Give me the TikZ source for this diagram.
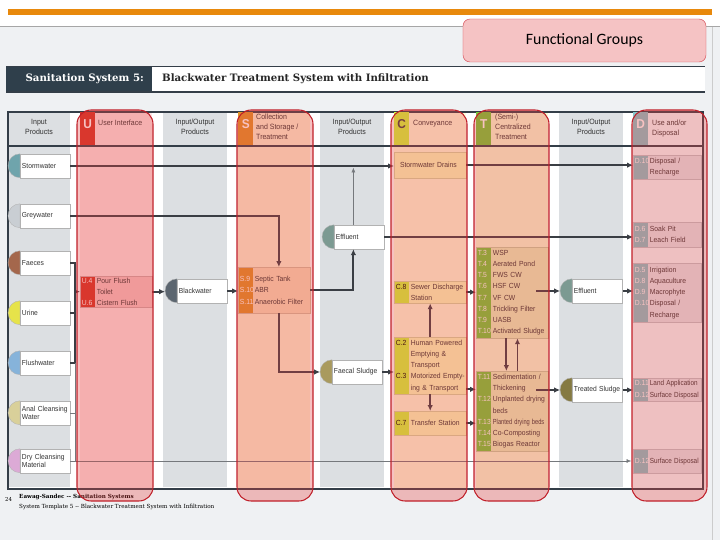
\documentclass[tikz,border=0pt]{standalone}
\usepackage{fontspec}
\setmainfont{Liberation Sans}
\newfontfamily\boxfont[FakeStretch=0.92]{Liberation Sans}
\newfontfamily\slabfont{DejaVu Serif}
\newfontfamily\calfont{Carlito}
\usetikzlibrary{shapes.misc}
\usetikzlibrary{positioning,calc,arrows.meta}

\definecolor{pagebg}{RGB}{239,241,243}
\definecolor{orangebar}{RGB}{232,137,12}
\definecolor{framecol}{RGB}{52,62,72}
\definecolor{stripecol}{RGB}{220,223,226}
\definecolor{titledark}{RGB}{47,63,75}
\definecolor{fgfill}{RGB}{245,195,196}
\definecolor{fgdraw}{RGB}{214,72,82}
\definecolor{ovlfill}{RGB}{232,64,64}
\definecolor{ovldraw}{RGB}{192,32,42}
\definecolor{linecol}{RGB}{58,62,68}
% columns (seen through the red groups)
\definecolor{ucol}{RGB}{252,229,229}
\definecolor{ubox}{RGB}{244,198,198}
\definecolor{ustrip}{RGB}{211,51,36}
\definecolor{scol}{RGB}{252,243,210}
\definecolor{sbox}{RGB}{247,223,185}
\definecolor{sstrip}{RGB}{223,146,40}
\definecolor{ccol}{RGB}{254,255,220}
\definecolor{cbox}{RGB}{250,255,188}
\definecolor{cstrip}{RGB}{208,252,61}
\definecolor{tcol}{RGB}{248,255,213}
\definecolor{tbox}{RGB}{232,243,188}
\definecolor{tstrip}{RGB}{114,205,58}
\definecolor{dcol}{RGB}{241,254,255}
\definecolor{dbox}{RGB}{226,234,239}
\definecolor{dstrip}{RGB}{133,198,202}
% products
\definecolor{stormcol}{RGB}{111,164,172}
\definecolor{greycol}{RGB}{201,206,211}
\definecolor{faecescol}{RGB}{164,103,76}
\definecolor{urinecol}{RGB}{230,227,74}
\definecolor{flushcol}{RGB}{134,179,218}
\definecolor{analcol}{RGB}{217,208,154}
\definecolor{drycol}{RGB}{220,170,214}
\definecolor{blackcol}{RGB}{92,102,112}
\definecolor{effcol}{RGB}{124,154,146}
\definecolor{fscol}{RGB}{169,154,94}
\definecolor{tscol}{RGB}{133,122,66}

\newcommand\ctag[2][white]{\makebox[12.8pt][l]{\textcolor{#1}{#2}}}
\newcommand\nobreaks{\hyphenpenalty=10000 \exhyphenpenalty=10000 }

\begin{document}
\begin{tikzpicture}[x=0.03cm,y=-0.03cm,
	prod/.style={rectangle, draw=gray!60, fill=white, anchor=west, text width=39.7pt,
		align=left, minimum height=20.4pt, inner xsep=1.5pt, inner ysep=1pt, text=black!80,
		font=\boxfont\fontsize{6.2}{7.4}\selectfont\nobreaks,
		append after command={\pgfextra{\fill[#1, draw=gray!60, line width=0.3pt]
			(\tikzlastnode.north west) arc[start angle=90, end angle=270, radius=10.2pt] -- cycle;}}},
	tech/.style n args={3}{rectangle, anchor=north west, fill=#1, draw=#1!85!black,
		line width=0.3pt, text width=58.5pt, align=left, inner xsep=1.5pt, inner ysep=1pt,
		minimum height=#3*0.8536pt, text=black!80, font=\boxfont\fontsize{6.3}{9.6}\selectfont\nobreaks,
		path picture={\fill[#2] (path picture bounding box.south west) rectangle
			([xshift=12.8pt]path picture bounding box.north west);}},
	letter/.style={fill=#1, anchor=north west, minimum width=12.8pt, inner sep=0pt,
		text height=14.2pt, text depth=14.8pt, text=white,
		font=\boxfont\bfseries\fontsize{11}{11}\selectfont},
	headtxt/.style={inner sep=0pt, anchor=north west, align=left, text=black!80,
		font=\boxfont\fontsize{6.5}{8.5}\selectfont},
	flow/.style={draw=linecol, line width=1.6pt},
	thinflow/.style={draw=linecol!70, line width=0.4pt},
	arr/.style={-{Latex[length=5pt,width=4.6pt]}},
	thinarr/.style={-{Latex[length=4pt,width=3.4pt]}, shorten >=1.5pt}]
	\useasboundingbox (0,0) rectangle (720,540);
	% page
	\fill[white] (0,0) rectangle (720,540);
	\fill[pagebg] (0,27) rectangle (720,540);
	\draw[gray!70, line width=0.6pt] (0,26.5) -- (720,26.5);
	\draw[gray!40, line width=0.5pt] (712,27) -- (712,540);
	\fill[orangebar] (8,9) rectangle (712,15);
	\node[draw=fgdraw, fill=fgfill, rounded corners=6pt, minimum width=243*0.8536pt,
		minimum height=43*0.8536pt, font=\calfont\fontsize{13.5}{14}\selectfont] (fg) at (584.5,40.5) {Functional Groups};
	% title
	\fill[white] (152,66) rectangle (705,92);
	\fill[titledark] (6,66) rectangle (152,92);
	\draw[framecol, line width=1.4pt] (6,92) -- (705,92);
	\draw[framecol, line width=0.5pt] (6,66) -- (705,66);
	\node[anchor=east, text=white, font=\slabfont\bfseries\fontsize{8.7}{9}\selectfont] (sysno) at (148,79) {Sanitation System 5:};
	\node[anchor=west, text=black!85, font=\slabfont\bfseries\fontsize{8.7}{9}\selectfont] (systitle) at (158,79) {Blackwater Treatment System with Infiltration};
	% frame and columns
	\fill[white] (8,112) rectangle (703,489);
	\fill[stripecol] (8,112) rectangle (70,487);
	\fill[stripecol] (163,112) rectangle (227,487);
	\fill[stripecol] (320,112) rectangle (384,487);
	\fill[stripecol] (559,112) rectangle (623,487);
	\fill[ucol] (80,112) rectangle (152,489);
	\fill[scol] (238,112) rectangle (310,489);
	\fill[ccol] (394,112) rectangle (466,489);
	\fill[tcol] (476,112) rectangle (548,489);
	\fill[dcol] (633,112) rectangle (701,489);
	\draw[framecol, line width=1.4pt] (8,112) rectangle (703,489);
	% header row
	\node[letter=ustrip] (uletter) at (80,112) {U};
	\node[letter=sstrip] (sletter) at (238,112) {S};
	\node[letter=cstrip, text=black!75] (cletter) at (394,112) {C};
	\node[letter=tstrip] (tletter) at (476,112) {T};
	\node[letter=dstrip] (dletter) at (633,112) {D};
	\node[headtxt, anchor=north, align=center] (inhead) at (39,119) {Input\\Products};
	\node[headtxt] (uhead) at (98,120) {User Interface};
	\node[headtxt, anchor=north, align=center] (iohead1) at (195,119) {Input/Output\\Products};
	\node[headtxt] (shead) at (256,114) {Collection\\and Storage /\\Treatment};
	\node[headtxt, anchor=north, align=center] (iohead2) at (352,119) {Input/Output\\Products};
	\node[headtxt] (chead) at (413,120) {Conveyance};
	\node[headtxt] (thead) at (495,114) {(Semi-)\\Centralized\\Treatment};
	\node[headtxt, anchor=north, align=center] (iohead3) at (591,119) {Input/Output\\Products};
	\node[headtxt] (dhead) at (652,120) {Use and/or\\Disposal};
	\draw[framecol, line width=1.4pt] (8,146) -- (703,146);
	% input products
	\node[prod=stormcol] (storm) at (20,166) {Stormwater};
	\node[prod=greycol] (grey) at (20,216) {Greywater};
	\node[prod=faecescol] (faeces) at (20,263) {Faeces};
	\node[prod=urinecol] (urine) at (20,313) {Urine};
	\node[prod=flushcol] (flush) at (20,363) {Flushwater};
	\node[prod=analcol] (anal) at (20,413) {Anal Cleansing\\Water};
	\node[prod=drycol] (dry) at (20,461) {Dry Cleansing\\Material};
	% input/output products
	\node[prod=blackcol] (black) at (177,291) {Blackwater};
	\node[prod=effcol] (eff1) at (334,237) {Effluent};
	\node[prod=fscol] (fsludge) at (332,372) {Faecal~Sludge};
	\node[prod=effcol] (eff2) at (572,291) {Effluent};
	\node[prod=tscol] (tsludge) at (572,390) {Treated~Sludge};
	% technologies
	\node[tech={ubox}{ustrip}{31}] (u4) at (80,276) {\ctag{U.4}Pour Flush\\\ctag{}Toilet\\\ctag{U.6}Cistern~Flush};
	\node[tech={sbox}{sstrip}{46}] (s9) at (238,267) {\ctag{S.9}Septic Tank\\\ctag{S.10}ABR\\\ctag{S.11}Anaerobic~Filter};
	\node[tech={cbox}{cbox}{26}, inner xsep=5pt, text width=51.5pt] (cdrain) at (394,152) {Stormwater~Drains};
	\node[tech={cbox}{cstrip}{22}] (c8) at (394,281) {\ctag[black]{C.8}Sewer~Discharge\\\ctag{}Station};
	\node[tech={cbox}{cstrip}{57}] (c2) at (394,337) {\ctag[black]{C.2}Human~Powered\\\ctag{}Emptying \&\\\ctag{}Transport\\\ctag[black]{C.3}Motorized~Empty-\\\ctag{}ing \& Transport};
	\node[tech={cbox}{cstrip}{24}] (c7) at (394,411) {\ctag[black]{C.7}Transfer~Station};
	\node[tech={tbox}{tstrip}{91}] (t3) at (476,247) {\ctag{T.3}WSP\\\ctag{T.4}Aerated Pond\\\ctag{T.5}FWS CW\\\ctag{T.6}HSF CW\\\ctag{T.7}VF CW\\\ctag{T.8}Trickling~Filter\\\ctag{T.9}UASB\\\ctag{T.10}Activated~Sludge};
	\node[tech={tbox}{tstrip}{80}] (t11) at (476,371) {\ctag{T.11}Sedimentation~/\\\ctag{}Thickening\\\ctag{T.12}Unplanted~drying\\\ctag{}beds\\\ctag{T.13}\scalebox{0.84}[1]{Planted drying beds}\\\ctag{T.14}Co-Composting\\\ctag{T.15}Biogas~Reactor};
	\node[tech={dbox}{dstrip}{24}, text width=55pt] (d10a) at (633,155) {\ctag{D.10}Disposal /\\\ctag{}Recharge};
	\node[tech={dbox}{dstrip}{25}, text width=55pt] (d6) at (633,222) {\ctag{D.6}Soak Pit\\\ctag{D.7}Leach~Field};
	\node[tech={dbox}{dstrip}{59}, text width=55pt] (d5) at (633,263) {\ctag{D.5}Irrigation\\\ctag{D.8}Aquaculture\\\ctag{D.9}Macrophyte\\\ctag{D.10}Disposal /\\\ctag{}Recharge};
	\node[tech={dbox}{dstrip}{23}, text width=55pt] (d11) at (633,378) {\ctag{D.11}\scalebox{0.94}[1]{Land Application}\\\ctag{D.12}\scalebox{0.94}[1]{Surface Disposal}};
	\node[tech={dbox}{dstrip}{24}, text width=55pt] (d12) at (633,449) {\ctag{D.12}\scalebox{0.94}[1]{Surface Disposal}};
	% flows
	\coordinate (bar) at (75,363);
	\draw[flow, arr] (storm.east) -- (storm.east -| cdrain.west);
	\draw[flow, arr] (cdrain.east) -- (cdrain.east -| d10a.west);
	\draw[flow, arr] (grey.east) -| ([xshift=4pt]s9.north);
	\draw[flow] (faeces.east) -| (bar) -- (flush.east);
	\draw[flow] (urine.east) -- (urine.east -| bar);
	\draw[flow, arr] (u4.west -| bar) -- (u4.west);
	\draw[thinflow] (anal.east) -- (anal.east -| bar);
	\draw[thinflow] (bar) |- (dry.east);
	\draw[thinflow, thinarr] (dry.east) -- (dry.east -| d12.west);
	\draw[flow, arr] (u4.east) -- ([xshift=-10.2pt]u4.east -| black.west);
	\draw[flow, arr] (black.east) -- (black.east -| s9.west);
	\draw[flow, arr] (s9.east) -| ([xshift=-5pt]eff1.south);
	\draw[thinflow, thinarr] ([xshift=-5pt]eff1.north) -- ([xshift=-5pt]eff1.north |- storm.east);
	\draw[flow, arr] (eff1.east) -- (eff1.east -| d6.west);
	\draw[flow, arr] ([xshift=4pt]s9.south) |- ([xshift=-10.2pt]fsludge.west);
	\draw[flow, arr] (fsludge.east) -- (fsludge.east -| c2.west);
	\draw[flow, arr] (c2.north) -- (c8.south);
	\draw[flow, arr] (c2.south) -- (c7.north);
	\draw[flow, arr] (c8.east) -- (c8.east -| t3.west);
	\coordinate (c2out) at ([yshift=4.3pt]c2.south east);
	\draw[flow, arr] (c2out) -- (c2out -| t11.west);
	\draw[flow, arr] (c7.east) -- (c7.east -| t11.west);
	\draw[flow, arr] ([xshift=-5pt]t3.south) -- ([xshift=-5pt]t11.north);
	\draw[flow, arr] ([xshift=4.5pt]t11.north) -- ([xshift=4.5pt]t3.south);
	\draw[flow, arr] ([xshift=-10.2pt]eff2.west -| t3.east) -- ([xshift=-10.2pt]eff2.west);
	\draw[flow, arr] (eff2.east) -- (eff2.east -| d5.west);
	\draw[flow, arr] ([xshift=-10.2pt]tsludge.west -| t11.east) -- ([xshift=-10.2pt]tsludge.west);
	\draw[flow, arr] (tsludge.east) -- (tsludge.east -| d11.west);
	% footer
	\node[anchor=west, inner sep=0pt, font=\slabfont\fontsize{4.6}{5}\selectfont] (pageno) at (5,499) {24};
	\node[anchor=west, inner sep=0pt, font=\slabfont\bfseries\fontsize{4.8}{5}\selectfont] (foot1) at (19,497) {Eawag-Sandec -- Sanitation Systems};
	\node[anchor=west, inner sep=0pt, font=\slabfont\fontsize{4.8}{5}\selectfont] (foot2) at (19,507) {System Template 5 -- Blackwater Treatment System with Infiltration};
	% functional groups
	\draw[ovldraw, line width=0.9pt, fill=ovlfill, fill opacity=0.32, rounded corners=12pt] (77,110) rectangle (153,501);
	\draw[ovldraw, line width=0.9pt, fill=ovlfill, fill opacity=0.32, rounded corners=12pt] (237,110) rectangle (313,501);
	\draw[ovldraw, line width=0.9pt, fill=ovlfill, fill opacity=0.32, rounded corners=12pt] (391,110) rectangle (467,501);
	\draw[ovldraw, line width=0.9pt, fill=ovlfill, fill opacity=0.32, rounded corners=12pt] (474,110) rectangle (549,501);
	\draw[ovldraw, line width=0.9pt, fill=ovlfill, fill opacity=0.32, rounded corners=12pt] (632,110) rectangle (707,501);
\end{tikzpicture}
\end{document}
